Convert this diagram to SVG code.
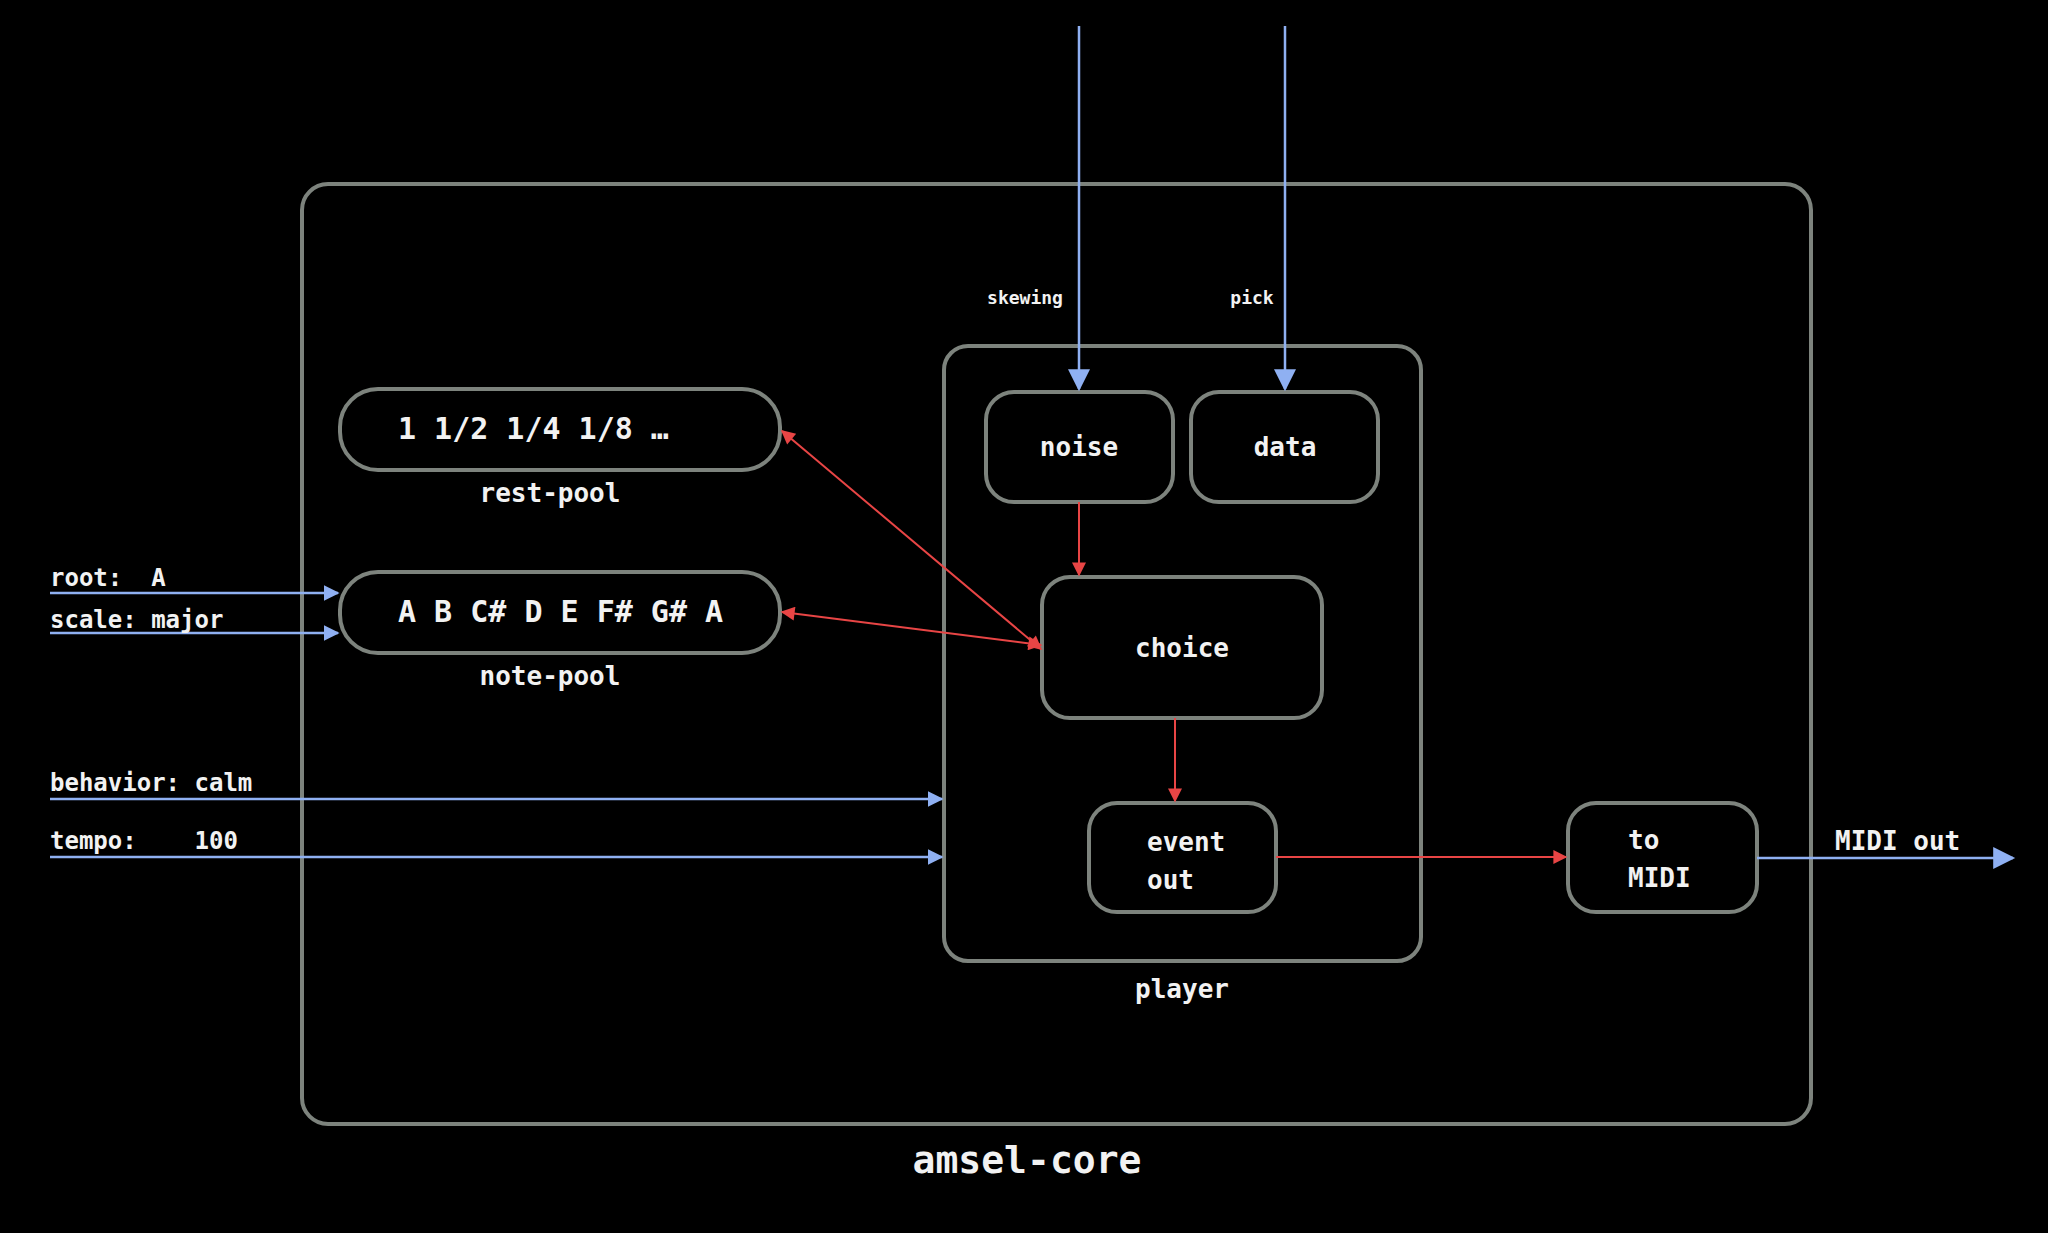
<svg xmlns="http://www.w3.org/2000/svg" width="2048" height="1233" viewBox="0 0 2048 1233">
<style>
.box{fill:#000;stroke:#7d837d;stroke-width:4}
.t{font-family:"DejaVu Sans Mono","Liberation Mono",monospace;font-weight:bold;fill:#f2f2f2}
.n{font-size:26px}
.m{text-anchor:middle}
.p{font-size:30px}
.s{font-size:24px}
.b{stroke:#8fb0f2;stroke-width:2.5;fill:none}
.r{stroke:#e84545;stroke-width:2;fill:none}
</style>
<defs>
<marker id="abL" viewBox="0 0 10 10" refX="9" refY="5" markerWidth="24" markerHeight="22" orient="auto" markerUnits="userSpaceOnUse"><path d="M0,0L10,5L0,10z" fill="#8fb0f2"/></marker>
<marker id="abM" viewBox="0 0 10 10" refX="9" refY="5" markerWidth="16" markerHeight="16" orient="auto" markerUnits="userSpaceOnUse"><path d="M0,0L10,5L0,10z" fill="#8fb0f2"/></marker>
<marker id="ar" viewBox="0 0 10 10" refX="9" refY="5" markerWidth="16" markerHeight="14" orient="auto-start-reverse" markerUnits="userSpaceOnUse"><path d="M0,0L10,5L0,10z" fill="#e84545"/></marker>
</defs>
<rect width="2048" height="1233" fill="#000"/>
<g id="amsel-core"><rect class="box" x="302" y="184" width="1509" height="940" rx="26"/><text class="t m" x="1027" y="1173" font-size="38">amsel-core</text></g>
<g id="player"><rect class="box" x="944" y="346" width="477" height="615" rx="24"/><text class="t n m" x="1182" y="998">player</text></g>
<g id="noise"><rect class="box" x="986" y="392" width="187" height="110" rx="28"/><text class="t n m" x="1079" y="456">noise</text></g>
<g id="data"><rect class="box" x="1191" y="392" width="187" height="110" rx="28"/><text class="t n m" x="1285" y="456">data</text></g>
<g id="choice"><rect class="box" x="1042" y="577" width="280" height="141" rx="28"/><text class="t n m" x="1182" y="657">choice</text></g>
<g id="event-out"><rect class="box" x="1089" y="803" width="187" height="109" rx="28"/><text class="t n" x="1147" y="851">event</text><text class="t n" x="1147" y="889">out</text></g>
<g id="to-midi"><rect class="box" x="1568" y="803" width="189" height="109" rx="28"/><text class="t n" x="1628" y="849">to</text><text class="t n" x="1628" y="887">MIDI</text></g>
<g id="rest-pool"><rect class="box" x="340" y="389" width="440" height="81" rx="38"/><text class="t p" x="398" y="439" xml:space="preserve">1 1/2 1/4 1/8 …</text><text class="t n m" x="550" y="502">rest-pool</text></g>
<g id="note-pool"><rect class="box" x="340" y="572" width="440" height="81" rx="38"/><text class="t p" x="398" y="622">A B C# D E F# G# A</text><text class="t n m" x="550" y="685">note-pool</text></g>
<g id="connectors">
<line class="b" x1="1079" y1="26" x2="1079" y2="389" marker-end="url(#abL)"/>
<line class="b" x1="1285" y1="26" x2="1285" y2="389" marker-end="url(#abL)"/>
<line class="b" x1="50" y1="593" x2="338" y2="593" marker-end="url(#abM)"/>
<line class="b" x1="50" y1="633" x2="338" y2="633" marker-end="url(#abM)"/>
<line class="b" x1="50" y1="799" x2="942" y2="799" marker-end="url(#abM)"/>
<line class="b" x1="50" y1="857" x2="942" y2="857" marker-end="url(#abM)"/>
<line class="b" x1="1757" y1="858" x2="2013" y2="858" stroke-width="3.5" marker-end="url(#abL)"/>
<line class="r" x1="1079" y1="502" x2="1079" y2="575" marker-end="url(#ar)"/>
<line class="r" x1="1175" y1="718" x2="1175" y2="801" marker-end="url(#ar)"/>
<line class="r" x1="1276" y1="857" x2="1566" y2="857" marker-end="url(#ar)"/>
<line class="r" x1="1041" y1="649" x2="782" y2="431" marker-start="url(#ar)" marker-end="url(#ar)"/>
<line class="r" x1="1041" y1="645" x2="782" y2="612" marker-start="url(#ar)" marker-end="url(#ar)"/>
</g>
<g id="labels">
<text class="t m" x="1025" y="304" font-size="18">skewing</text>
<text class="t m" x="1252" y="304" font-size="18">pick</text>
<text class="t s" x="50" y="586" xml:space="preserve">root:  A</text>
<text class="t s" x="50" y="628" xml:space="preserve">scale: major</text>
<text class="t s" x="50" y="791" xml:space="preserve">behavior: calm</text>
<text class="t s" x="50" y="849" xml:space="preserve">tempo:    100</text>
<text class="t" x="1835" y="850" font-size="26">MIDI out</text>
</g>
</svg>
